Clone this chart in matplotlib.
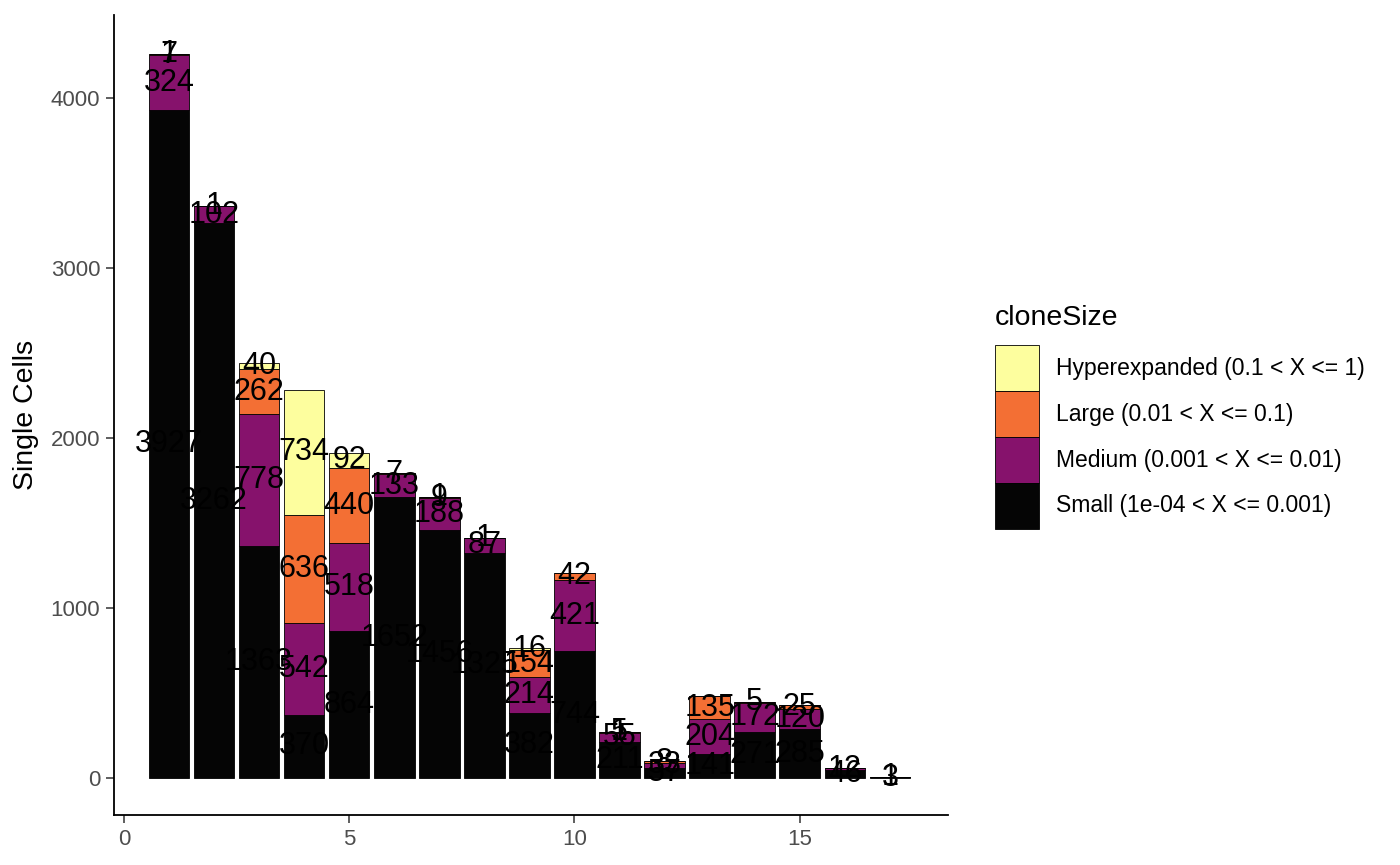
import numpy as np
import matplotlib
matplotlib.use("Agg")
import matplotlib.pyplot as plt
from matplotlib.patches import Patch

plt.rcParams['font.family'] = ['Liberation Sans', 'DejaVu Sans']

clusters = list(range(1, 18))
small = [3927, 3262, 1363, 370, 864, 1652, 1456, 1325, 382, 744, 211, 57, 141, 271, 285, 46, 3]
medium = [324, 102, 778, 542, 518, 133, 188, 87, 214, 421, 55, 33, 204, 172, 120, 12, 1]
large = [7, 1, 262, 636, 440, 7, 9, 1, 154, 42, 5, 8, 135, 5, 25, 0, 0]
hyper = [1, 0, 40, 734, 92, 0, 1, 0, 16, 0, 1, 0, 0, 0, 0, 0, 0]

levels = ['Small (1e-04 < X <= 0.001)', 'Medium (0.001 < X <= 0.01)',
          'Large (0.01 < X <= 0.1)', 'Hyperexpanded (0.1 < X <= 1)']
colors = ['#050505', '#86126C', '#F36F34', '#FDFE9E']

fig = plt.figure(figsize=(14, 8.65), dpi=100)
ax = fig.add_axes([114 / 1400, 50 / 865, (948 - 114) / 1400, (815 - 15) / 865])

bottom = np.zeros(len(clusters))
for vals, col, lab in zip([small, medium, large, hyper], colors, levels):
    vals = np.array(vals, dtype=float)
    ax.bar(clusters, vals, bottom=bottom, width=0.9, color=col,
           edgecolor='black', linewidth=0.6, label=lab)
    for x, v, b in zip(clusters, vals, bottom):
        if v > 0:
            ax.text(x, b + v / 2, str(int(v)), ha='center', va='center',
                    fontsize=22, color='black')
    bottom += vals

ax.set_xlim(-0.22, 18.29)
ax.set_ylim(-218, 4488)
ax.set_xticks([0, 5, 10, 15])
ax.set_yticks([0, 1000, 2000, 3000, 4000])
ax.tick_params(axis='both', colors='#333333', labelcolor='#4D4D4D',
               labelsize=16, length=6, width=1.1, pad=4)
for s in ['top', 'right']:
    ax.spines[s].set_visible(False)
for s in ['left', 'bottom']:
    ax.spines[s].set_linewidth(1.3)
ax.set_ylabel('Single Cells', fontsize=20.5, labelpad=8)

# legend (title drawn separately to get the ggplot spacing)
fig.text(995 / 1400, 1 - 318 / 865, 'cloneSize', fontsize=20.5,
         ha='left', va='center')
handles = [Patch(facecolor=c, edgecolor='black', linewidth=0.6) for c in colors][::-1]
leg = fig.legend(handles, levels[::-1], loc='upper left',
                 bbox_to_anchor=(986 / 1400, 1 - 336 / 865), frameon=False,
                 fontsize=16.5, handlelength=1.9,
                 handleheight=2.7, labelspacing=0.0, handletextpad=0.75,
                 borderaxespad=0)

fig.savefig('out.png', dpi=100)
